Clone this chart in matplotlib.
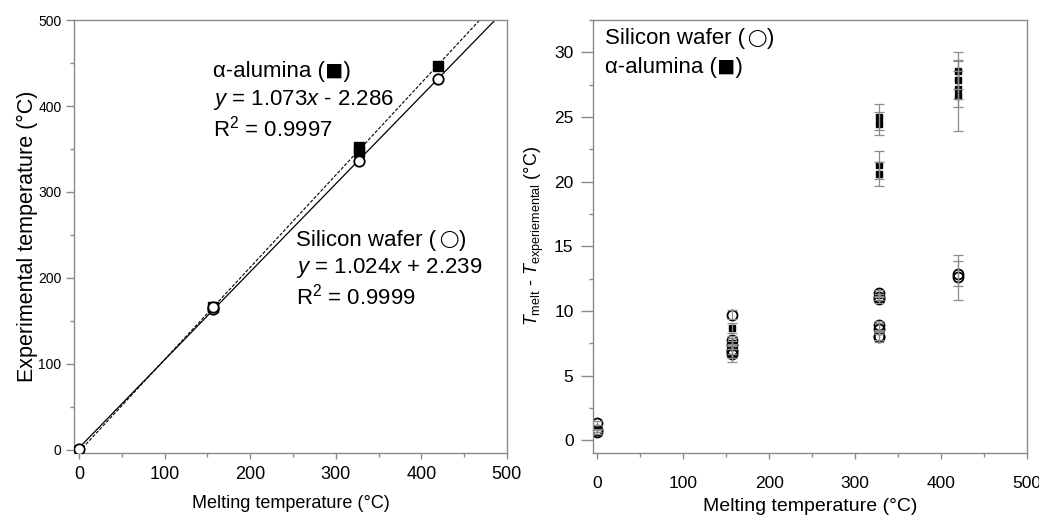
import matplotlib
matplotlib.use("Agg")
import matplotlib.pyplot as plt
import numpy as np
from matplotlib.ticker import MultipleLocator

plt.rcParams['font.family'] = ['Liberation Sans', 'DejaVu Sans']
plt.rcParams['mathtext.fontset'] = 'custom'
plt.rcParams['mathtext.rm'] = 'Liberation Sans'
plt.rcParams['mathtext.it'] = 'Liberation Sans:italic'

# ---- Left panel data ----
si_melt = [0.0, 156.6, 156.6, 327.5, 419.5]
si_exp = [0.7, 163.6, 166.0, 335.5, 431.5]
al_melt = [156.6, 327.5, 327.5, 419.5]
al_exp = [165.5, 352.0, 347.0, 446.8]
si_slope, si_icpt = 1.024, 2.239
al_slope, al_icpt = 1.073, -2.286
fit_x = [0.0, 500.0]

# ---- Right panel data ----
si_dx = [0.0, 0.0, 0.0,
         156.6, 156.6, 156.6, 156.6, 156.6, 156.6,
         327.5, 327.5, 327.5, 327.5, 327.5, 327.5, 327.5,
         419.5, 419.5]
si_dt = [1.34, 0.77, 0.65,
         9.7, 7.75, 7.4, 7.0, 6.85, 6.7,
         11.36, 11.1, 10.9, 8.9, 8.65, 8.1, 8.0,
         12.9, 12.6]
si_err = [0.15, 0.15, 0.15,
          0.35, 0.3, 0.3, 0.35, 0.5, 0.6,
          0.25, 0.25, 0.25, 0.35, 0.4, 0.35, 0.4,
          1.0, 1.75]
al_dx = [156.6, 156.6, 327.5, 327.5, 327.5, 327.5, 419.5, 419.5, 419.5, 419.5]
al_dt = [8.7, 7.5, 25.0, 24.5, 21.3, 20.6, 28.6, 27.9, 27.2, 26.6]
al_err = [0.4, 0.45, 1.0, 0.9, 1.1, 0.9, 1.4, 1.5, 1.4, 2.7]

fig = plt.figure(figsize=(10.39, 5.15), dpi=100)
ax1 = fig.add_axes([0.0712, 0.121, 0.4167, 0.840])
ax2 = fig.add_axes([0.5707, 0.121, 0.4177, 0.840])

spine_col = '#8a8a8a'
for ax in (ax1, ax2):
    for s in ax.spines.values():
        s.set_color(spine_col)
        s.set_linewidth(1.0)
    ax.tick_params(which='both', direction='out', color=spine_col, width=1.0,
                   top=False, right=False)
    ax.tick_params(axis='x', which='major', length=4.5)
    ax.tick_params(axis='x', which='minor', length=3)
    ax.xaxis.set_major_locator(MultipleLocator(100))
    ax.xaxis.set_minor_locator(MultipleLocator(50))

ann_fs = 16


def silicon_label(ax, x, y):
    t1 = ax.text(x, y, 'Silicon wafer (', fontsize=ann_fs, va='center', ha='left')
    t2 = ax.annotate('◯', xy=(1, 0.5), xycoords=t1, xytext=(1.5, 0.5),
                     textcoords='offset points', fontsize=12.5, va='center', ha='left')
    ax.annotate(')', xy=(1, 0), xycoords=(t2, t1), xytext=(0.5, 0),
                textcoords='offset points', fontsize=ann_fs, va='bottom', ha='left')


# Left panel
fx = np.array(fit_x)
ax1.plot(fx, si_slope * fx + si_icpt, color='black', lw=0.9, zorder=2)
ax1.plot(fx, al_slope * fx + al_icpt, color='black', lw=0.8, ls=(0, (3, 1.5)), zorder=2)
ax1.plot(al_melt, al_exp, ls='none', marker='s', ms=7.5, mfc='black', mec='black', zorder=3)
ax1.plot(si_melt, si_exp, ls='none', marker='o', ms=7.5, mfc='white', mec='black',
         mew=1.3, zorder=4)
ax1.set_xlim(-6, 500)
ax1.set_ylim(-3.5, 500)
ax1.yaxis.set_major_locator(MultipleLocator(100))
ax1.yaxis.set_minor_locator(MultipleLocator(50))
ax1.tick_params(axis='y', which='major', length=5.5, labelsize=10)
ax1.tick_params(axis='y', which='minor', length=3)
ax1.tick_params(axis='x', labelsize=13, pad=5)
ax1.set_xlabel('Melting temperature (°C)', fontsize=13, labelpad=9)
ax1.set_ylabel('Experimental temperature (°C)', fontsize=15.5, labelpad=0)

ax1.text(157, 440, 'α-alumina (◼)', fontsize=ann_fs, va='center', ha='left')
ax1.text(157, 407, r'$y$ = 1.073$x$ - 2.286', fontsize=ann_fs, va='center', ha='left')
ax1.text(157, 374, r'R$^2$ = 0.9997', fontsize=ann_fs, va='center', ha='left')
silicon_label(ax1, 254, 244)
ax1.text(254, 212, r'$y$ = 1.024$x$ + 2.239', fontsize=ann_fs, va='center', ha='left')
ax1.text(254, 178, r'R$^2$ = 0.9999', fontsize=ann_fs, va='center', ha='left')

# Right panel
err_col = '#8c8c8c'
ax2.errorbar(si_dx, si_dt, yerr=si_err, fmt='none', ecolor=err_col, elinewidth=0.9,
             capsize=3.8, capthick=0.9, zorder=3)
ax2.errorbar(al_dx, al_dt, yerr=al_err, fmt='none', ecolor=err_col, elinewidth=0.9,
             capsize=3.8, capthick=0.9, zorder=3)
ax2.plot(si_dx, si_dt, ls='none', marker='o', ms=7.2, mfc='none', mec='black',
         mew=1.3, zorder=2)
ax2.plot(al_dx, al_dt, ls='none', marker='s', ms=4.3, mfc='black', mec='black', zorder=2)
ax2.set_xlim(-5, 500)
ax2.set_ylim(-0.95, 32.5)
ax2.yaxis.set_major_locator(MultipleLocator(5))
ax2.yaxis.set_minor_locator(MultipleLocator(2.5))
ax2.tick_params(axis='y', which='major', length=9, labelsize=12.5, pad=5)
ax2.tick_params(axis='y', which='minor', length=3)
ax2.tick_params(axis='x', labelsize=12.5, pad=12)
ax2.set_xlabel('Melting temperature (°C)', fontsize=14, labelpad=5)
ax2.set_ylabel(r'$T_{\rm melt}$ - $T_{\rm experiemental}$ (°C)', fontsize=13, labelpad=6)
silicon_label(ax2, 9, 31.05)
ax2.text(9, 28.8, 'α-alumina (◼)', fontsize=ann_fs, va='center', ha='left')

fig.savefig('out.png', dpi=100)
